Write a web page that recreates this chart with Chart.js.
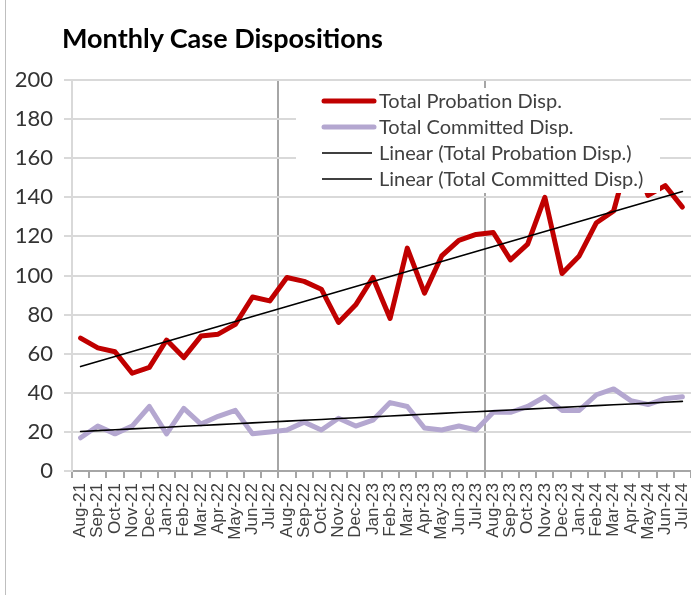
<!DOCTYPE html>
<html>
<head>
<meta charset="utf-8">
<script src="https://cdn.jsdelivr.net/npm/chart.js@4"></script>
<style>
  html, body { margin: 0; padding: 0; background: #fff; }
  #wrap { position: relative; width: 691px; height: 595px; overflow: hidden; }
  #frame { position: absolute; left: 5px; top: 0; width: 0; height: 595px; border-left: 1px solid #bfbfbf; }
  #title { position: absolute; left: 62px; top: 24px; font: bold 27px Lato, sans-serif; line-height: 27px; color: #000; white-space: nowrap; }
</style>
</head>
<body>
<div id="wrap">
  <canvas id="chart" width="691" height="595"></canvas>
  <div id="frame"></div>
  <div id="title">Monthly Case Dispositions</div>
</div>
<script>
const months = [
  "Aug-21", "Sep-21", "Oct-21", "Nov-21", "Dec-21", "Jan-22", "Feb-22", "Mar-22", "Apr-22", "May-22", "Jun-22", "Jul-22",
  "Aug-22", "Sep-22", "Oct-22", "Nov-22", "Dec-22", "Jan-23", "Feb-23", "Mar-23", "Apr-23", "May-23", "Jun-23", "Jul-23",
  "Aug-23", "Sep-23", "Oct-23", "Nov-23", "Dec-23", "Jan-24", "Feb-24", "Mar-24", "Apr-24", "May-24", "Jun-24", "Jul-24",
];
const probation = [
  68, 63, 61, 50, 53, 67, 58, 69, 70, 75, 89, 87,
  99, 97, 93, 76, 85, 99, 78, 114, 91, 110, 118, 121,
  122, 108, 116, 140, 101, 110, 127, 133, 165, 141, 146, 135,
];
const committed = [
  17, 23, 19, 23, 33, 19, 32, 24, 28, 31, 19, 20,
  21, 25, 21, 27, 23, 26, 35, 33, 22, 21, 23, 21,
  30, 30, 33, 38, 31, 31, 39, 42, 36, 34, 37, 38,
];
const yTicks = [0, 20, 40, 60, 80, 100, 120, 140, 160, 180, 200];

// least squares fit, same as excel "Linear" trendline
const linearFit = (values) => {
  const n = values.length;
  const mx = (n - 1) / 2;
  const my = values.reduce((a, b) => a + b, 0) / n;
  let sxy = 0;
  let sxx = 0;
  values.forEach((v, i) => {
    sxy += (i - mx) * (v - my);
    sxx += (i - mx) * (i - mx);
  });
  const slope = sxy / sxx;
  return values.map((v, i) => my + slope * (i - mx));
};

// excel style legend box, drawn over the lines
const legendBox = {
  id: "legendBox",
  afterDatasetsDraw(chart) {
    const ctx = chart.ctx;
    ctx.save();
    ctx.fillStyle = "#fff";
    ctx.fillRect(296, 88, 364, 105);
    chart.data.datasets.forEach((ds, i) => {
      const y = 101 + i * 26;
      ctx.strokeStyle = ds.borderColor;
      ctx.lineWidth = ds.borderWidth;
      ctx.lineCap = i < 2 ? "round" : "butt";
      ctx.beginPath();
      ctx.moveTo(i < 2 ? 324 : 322, y);
      ctx.lineTo(i < 2 ? 374 : 372, y);
      ctx.stroke();
      ctx.fillStyle = "#404040";
      ctx.font = "20px Lato";
      ctx.textBaseline = "middle";
      ctx.fillText(ds.label, 379, y + 1);
    });
    ctx.restore();
  },
};

const ctx = document.getElementById("chart").getContext("2d");
new Chart(ctx, {
  type: "line",
  data: {
    labels: months,
    datasets: [
      {
        label: "Total Probation Disp.",
        data: probation,
        borderColor: "#c00000",
        borderWidth: 5,
        order: 2,
      },
      {
        label: "Total Committed Disp.",
        data: committed,
        borderColor: "#b4a7d0",
        borderWidth: 5,
        order: 3,
      },
      {
        label: "Linear (Total Probation Disp.)",
        data: linearFit(probation),
        borderColor: "#000",
        borderWidth: 1.6,
        order: 0,
      },
      {
        label: "Linear (Total Committed Disp.)",
        data: linearFit(committed),
        borderColor: "#000",
        borderWidth: 1.6,
        order: 1,
      },
    ],
  },
  options: {
    responsive: false,
    animation: false,
    layout: { padding: { top: 80, left: 0, right: 0, bottom: 0 } },
    elements: {
      point: { radius: 0 },
      line: { tension: 0, borderJoinStyle: "round", borderCapStyle: "round" },
    },
    plugins: {
      legend: { display: false },
      title: { display: false },
      tooltip: { enabled: false },
    },
    scales: {
      x: {
        offset: true,
        afterFit: (scale) => {
          scale.height = 124;
          scale.paddingLeft = 0;
          scale.paddingRight = 0;
        },
        grid: {
          offset: true,
          lineWidth: 2,
          color: (c) => (c.index === 12 || c.index === 24 ? "#a6a6a6" : "rgba(0,0,0,0)"),
          tickColor: "#a6a6a6",
          tickLength: 7,
        },
        border: { color: "#a6a6a6", width: 2 },
        ticks: {
          autoSkip: false,
          minRotation: 90,
          maxRotation: 90,
          padding: 5,
          color: "#404040",
          font: { family: "Liberation Sans", size: 17 },
        },
      },
      y: {
        min: 0,
        max: 200,
        afterFit: (scale) => {
          scale.width = 72;
        },
        afterBuildTicks: (scale) => {
          scale.ticks = yTicks.map((v) => ({ value: v }));
        },
        grid: {
          color: "#d9d9d9",
          lineWidth: 2,
          tickColor: "#d9d9d9",
          tickLength: 8,
        },
        border: { color: "#d9d9d9", width: 2 },
        ticks: {
          padding: 11,
          color: "#333",
          font: { family: "Lato", size: 22 },
        },
      },
    },
  },
  plugins: [legendBox],
});
</script>
</body>
</html>
